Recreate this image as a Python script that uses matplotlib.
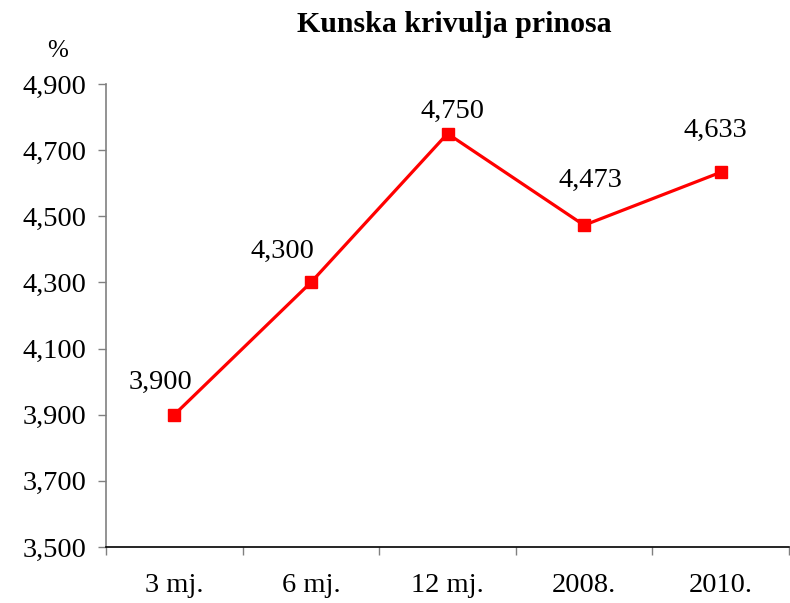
import matplotlib
matplotlib.use("Agg")
import matplotlib.pyplot as plt
from matplotlib.ticker import FixedLocator, FuncFormatter

categories = ["3 mj.", "6 mj.", "12 mj.", "2008.", "2010."]
values = [3.900, 4.300, 4.750, 4.473, 4.633]
y_ticks = [3.5, 3.7, 3.9, 4.1, 4.3, 4.5, 4.7, 4.9]
# manual data-label offsets (pixels: dx, baseline dy)
label_offsets = [(-14, 26), (-28, 25), (5, 16), (6, 38), (-5, 35)]

plt.rcParams['font.family'] = ['Liberation Serif', 'DejaVu Serif']

fig = plt.figure(figsize=(7.9, 6.03), dpi=100)
ax = fig.add_axes([106/790, 1-547/603, (789-106)/790, (547-84)/603])

x = list(range(len(categories)))
ax.plot(x, values, color='#ff0000', lw=2.3, marker='s', markersize=8, zorder=3)

def fmt(v):
    return f"{v:.3f}".replace('.', ',')

for xi, v, (dx, dy) in zip(x, values, label_offsets):
    ax.annotate(fmt(v), (xi, v), xytext=(dx * 0.72, dy * 0.72), textcoords='offset points',
                ha='center', va='baseline', fontsize=20.5)

ax.set_xlim(-0.5, len(categories) - 0.5)
ax.set_ylim(3.5, 4.9)
ax.set_yticks(y_ticks)
ax.yaxis.set_major_formatter(FuncFormatter(lambda v, p: fmt(v)))
ax.set_xticks(x)
ax.set_xticklabels(categories)
ax.xaxis.set_minor_locator(FixedLocator([i - 0.5 for i in range(len(categories) + 1)]))
ax.tick_params(axis='x', which='major', length=0, pad=19, labelsize=20.5)
ax.tick_params(axis='x', which='minor', length=6, width=1, color='#808080', direction='out')
ax.tick_params(axis='y', which='major', length=6, width=1, color='#808080', labelsize=20.5, pad=8)

for s in ['top', 'right']:
    ax.spines[s].set_visible(False)
ax.spines['left'].set_color('#808080')
ax.spines['left'].set_linewidth(1.2)
ax.spines['bottom'].set_color('black')
ax.spines['bottom'].set_linewidth(1.2)

fig.text(0.575, 1-32/603, "Kunska krivulja prinosa", ha='center', va='baseline',
         fontsize=21.5, fontweight='bold')
fig.text(58/790, 1-51/603, "%", ha='center', va='center', fontsize=18)

fig.savefig("out.png", dpi=100)
